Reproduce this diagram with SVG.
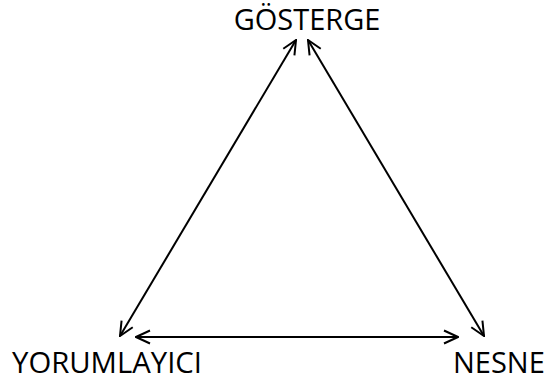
<svg xmlns="http://www.w3.org/2000/svg" width="545" height="381" viewBox="0 0 545 381">
<style>
.lbl{font-family:"Open Sans","Liberation Sans",sans-serif;font-size:29px;fill:#000}
.ln{stroke:#000;stroke-width:2;fill:none;marker-start:url(#ah);marker-end:url(#ah)}
</style>
<defs>
<marker id="ah" viewBox="0 0 16 16" refX="15" refY="8" markerWidth="16" markerHeight="16" markerUnits="userSpaceOnUse" orient="auto-start-reverse">
<path d="M1,1.5 L15,8 L1,14.5" fill="none" stroke="#000" stroke-width="2"/>
</marker>
</defs>
<rect width="545" height="381" fill="#fff"/>
<g id="connectors">
<line class="ln" x1="296" y1="40" x2="120" y2="336"/>
<line class="ln" x1="308" y1="40" x2="484" y2="336"/>
<line class="ln" x1="136" y1="337" x2="458" y2="337"/>
</g>
<g id="gosterge"><text class="lbl" x="307" y="30" text-anchor="middle">GÖSTERGE</text></g>
<g id="yorumlayici"><text class="lbl" x="12" y="373" textLength="190" lengthAdjust="spacingAndGlyphs">YORUMLAYICI</text></g>
<g id="nesne"><text class="lbl" x="453" y="373">NESNE</text></g>
</svg>
